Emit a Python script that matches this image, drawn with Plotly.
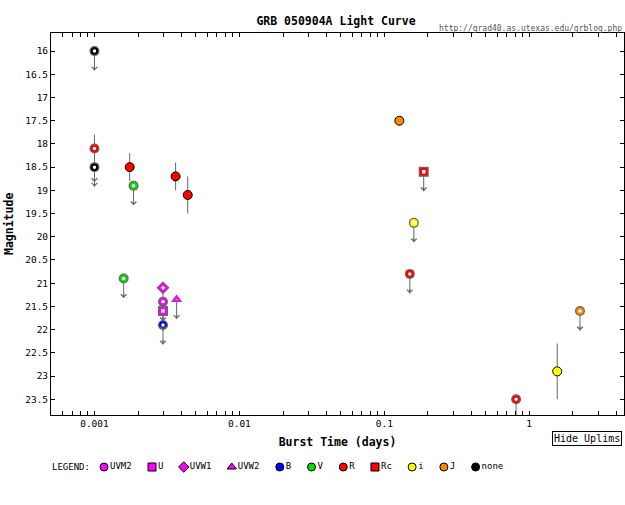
import numpy as np
import plotly.graph_objects as go

# ---------------- data ----------------
bands = ["UVM2", "U", "UVW1", "UVW2", "B", "V", "R", "Rc", "i", "J", "none"]
band_colors = ["#ff00ff", "#ff00ff", "#ff00ff", "#ff00ff", "#0000ff", "#00e000",
               "#ff0000", "#ff0000", "#ffff00", "#ff8800", "#000000"]
band_symbols = ["circle", "square", "diamond", "triangle-up", "circle", "circle",
                "circle", "square", "circle", "circle", "circle"]

# detections (time in days, magnitude, error)
det_R_t = [0.00175, 0.00363, 0.0044]
det_R_mag = [18.5, 18.7, 19.1]
det_R_err = [0.3, 0.3, 0.4]
det_J_t = [0.127]
det_J_mag = [17.5]
det_J_err = [0.0]
det_i_t = [1.56]
det_i_mag = [22.9]
det_i_err = [0.6]

# upper limits
ul_none_t = [0.001, 0.001]
ul_none_mag = [16.0, 18.5]
ul_none_err = [0.0, 0.0]
ul_R_t = [0.001, 0.150, 0.812]
ul_R_mag = [18.1, 20.8, 23.5]
ul_R_err = [0.3, 0.0, 0.0]
ul_V_t = [0.00159, 0.00186]
ul_V_mag = [20.9, 18.9]
ul_V_err = [0.0, 0.0]
ul_UVW1_t = [0.00297]
ul_UVW1_mag = [21.1]
ul_UVW1_err = [0.0]
ul_UVM2_t = [0.00297]
ul_UVM2_mag = [21.4]
ul_UVM2_err = [0.0]
ul_U_t = [0.00297]
ul_U_mag = [21.6]
ul_U_err = [0.0]
ul_B_t = [0.00297]
ul_B_mag = [21.9]
ul_B_err = [0.0]
ul_UVW2_t = [0.00369]
ul_UVW2_mag = [21.35]
ul_UVW2_err = [0.0]
ul_Rc_t = [0.187]
ul_Rc_mag = [18.6]
ul_Rc_err = [0.0]
ul_i_t = [0.160]
ul_i_mag = [19.7]
ul_i_err = [0.0]
ul_J_t = [2.24]
ul_J_mag = [21.6]
ul_J_err = [0.0]

x_tick_vals = [0.0006, 0.0007, 0.0008, 0.0009, 0.001, 0.002, 0.003, 0.004, 0.005,
               0.006, 0.007, 0.008, 0.009, 0.01, 0.02, 0.03, 0.04, 0.05, 0.06,
               0.07, 0.08, 0.09, 0.1, 0.2, 0.3, 0.4, 0.5, 0.6, 0.7, 0.8, 0.9,
               1, 2, 3, 4]
x_tick_labels = {0.001: "0.001", 0.01: "0.01", 0.1: "0.1", 1: "1"}

# ---------------- assembly ----------------
detections = {
    "R": (det_R_t, det_R_mag, det_R_err),
    "J": (det_J_t, det_J_mag, det_J_err),
    "i": (det_i_t, det_i_mag, det_i_err),
}
uplims = {
    "none": (ul_none_t, ul_none_mag, ul_none_err),
    "R": (ul_R_t, ul_R_mag, ul_R_err),
    "V": (ul_V_t, ul_V_mag, ul_V_err),
    "UVW1": (ul_UVW1_t, ul_UVW1_mag, ul_UVW1_err),
    "UVM2": (ul_UVM2_t, ul_UVM2_mag, ul_UVM2_err),
    "U": (ul_U_t, ul_U_mag, ul_U_err),
    "B": (ul_B_t, ul_B_mag, ul_B_err),
    "UVW2": (ul_UVW2_t, ul_UVW2_mag, ul_UVW2_err),
    "Rc": (ul_Rc_t, ul_Rc_mag, ul_Rc_err),
    "i": (ul_i_t, ul_i_mag, ul_i_err),
    "J": (ul_J_t, ul_J_mag, ul_J_err),
}
color_of = dict(zip(bands, band_colors))
symbol_of = dict(zip(bands, band_symbols))

ARROW_LEN = 0.42
GRAY = "#666666"
FONT = "DejaVu Sans Mono"

fig = go.Figure()

# gray vertical segments: error bars and upper-limit stems
seg_x, seg_y = [], []
for name, (t, m, e) in detections.items():
    for ti, mi, ei in zip(t, m, e):
        if ei > 0:
            seg_x += [ti, ti, None]
            seg_y += [mi - ei, mi + ei, None]
for name, (t, m, e) in uplims.items():
    for ti, mi, ei in zip(t, m, e):
        seg_x += [ti, ti, None]
        seg_y += [mi - ei, mi + max(ei, 0) + ARROW_LEN, None]
fig.add_trace(go.Scatter(x=seg_x, y=seg_y, mode="lines",
                         line=dict(color=GRAY, width=1), hoverinfo="skip",
                         showlegend=False))

# upper limit markers: gray back + colored open ring
for name, (t, m, e) in uplims.items():
    fig.add_trace(go.Scatter(x=t, y=m, mode="markers", showlegend=False,
                             marker=dict(symbol=symbol_of[name], size=10,
                                         color=GRAY, line=dict(width=0))))
    fig.add_trace(go.Scatter(x=t, y=m, mode="markers", showlegend=False,
                             name=name + " uplim",
                             marker=dict(symbol=symbol_of[name], size=5.5,
                                         color="white",
                                         line=dict(color=color_of[name], width=2))))

# detections
for name, (t, m, e) in detections.items():
    fig.add_trace(go.Scatter(x=t, y=m, mode="markers", showlegend=False,
                             name=name,
                             marker=dict(symbol=symbol_of[name], size=9,
                                         color=color_of[name],
                                         line=dict(color="black", width=1))))

# arrow heads
annotations = []
for name, (t, m, e) in uplims.items():
    for ti, mi, ei in zip(t, m, e):
        annotations.append(dict(x=np.log10(ti), y=mi + max(ei, 0) + ARROW_LEN,
                                xref="x", yref="y", ax=0, ay=-6, text="",
                                showarrow=True, arrowhead=4, arrowsize=1.1,
                                arrowwidth=1, arrowcolor=GRAY))

# custom legend on its own hidden axes (positions in page pixels)
leg_x = [104.0]
for lab in bands[:-1]:
    leg_x.append(leg_x[-1] + 26.3 + 5.43 * len(lab))
for xi, lab, col, sym in zip(leg_x, bands, band_colors, band_symbols):
    fig.add_trace(go.Scatter(x=[xi], y=[0.5], xaxis="x2", yaxis="y2",
                             mode="markers+text", text=[lab],
                             textposition="middle right",
                             textfont=dict(family=FONT, size=9, color="black"),
                             marker=dict(symbol=sym, size=8, color=col,
                                         line=dict(color="black", width=1)),
                             showlegend=False, hoverinfo="skip"))

W, H = 625, 505
L, R, T, B = 51, 1, 33, 25
PW, PH = W - L - R, H - T - B

annotations += [
    dict(text="LEGEND:", xref="paper", yref="paper", x=(50 - L) / PW, y=0.029,
         xanchor="left", yanchor="middle", showarrow=False,
         font=dict(family=FONT, size=9, color="black")),
    dict(text="Hide Uplims", xref="paper", yref="paper", x=(622 - L) / PW,
         y=(H - B - 438) / PH,
         xanchor="right", yanchor="middle", showarrow=False,
         bordercolor="black", borderwidth=1, borderpad=1, bgcolor="white",
         font=dict(family=FONT, size=10, color="black")),
    dict(text="http://grad40.as.utexas.edu/grblog.php", xref="paper",
         yref="paper", x=1.0, y=1.0, xanchor="right", yanchor="bottom",
         yshift=-2, showarrow=False,
         font=dict(family=FONT, size=8, color="#555555")),
    dict(text="<b>Magnitude</b>", xref="paper", yref="paper",
         x=(9 - L) / PW, y=(H - B - 224) / PH, textangle=-90,
         xanchor="center", yanchor="middle", showarrow=False,
         font=dict(family=FONT, size=11.5, color="black")),
]

fig.update_layout(
    width=W, height=H,
    margin=dict(l=L, r=R, t=T, b=B, autoexpand=False),
    paper_bgcolor="white", plot_bgcolor="white",
    showlegend=False,
    title=dict(text="<b>GRB 050904A Light Curve</b>", x=336 / W,
               xanchor="center", y=1 - 21 / H, yanchor="middle",
               yref="container",
               font=dict(family=FONT, size=11.5, color="black")),
    xaxis=dict(type="log", range=[-3.30, 0.654], domain=[0, 1], anchor="y",
               tickvals=x_tick_vals,
               ticktext=[x_tick_labels.get(v, "") for v in x_tick_vals],
               ticks="inside", ticklen=4, tickcolor="black",
               showline=True, linecolor="black", linewidth=1, mirror="ticks",
               showgrid=False, zeroline=False,
               tickfont=dict(family=FONT, size=9.5, color="black"),
               title=dict(text="<b>Burst Time (days)</b>", standoff=9,
                          font=dict(family=FONT, size=11.5, color="black"))),
    yaxis=dict(range=[23.84, 15.61], domain=[65 / PH, 1], anchor="x",
               tick0=16, dtick=0.5,
               ticks="inside", ticklen=4, tickcolor="black",
               showline=True, linecolor="black", linewidth=1, mirror="ticks",
               showgrid=False, zeroline=False,
               tickfont=dict(family=FONT, size=9.5, color="black")),
    xaxis2=dict(range=[51, 624], domain=[0, 1], anchor="y2", visible=False,
                fixedrange=True),
    yaxis2=dict(range=[0, 1], domain=[0, 26 / PH], anchor="x2", visible=False,
                fixedrange=True),
    annotations=annotations,
)

fig.write_html(
    "out.html",
    config={"displayModeBar": False},
    post_script="document.body.style.margin='0';"
                "document.body.style.overflow='hidden';",
)
